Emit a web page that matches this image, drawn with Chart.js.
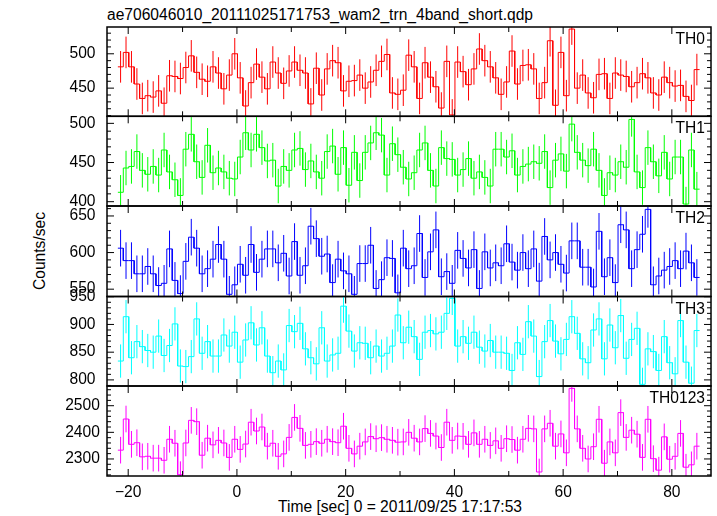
<!DOCTYPE html>
<html><head><meta charset="utf-8"><title>ae706046010 WAM light curve</title>
<script src="https://cdn.jsdelivr.net/npm/chart.js@4.4.1/dist/chart.umd.min.js"></script>
<style>
html,body{margin:0;padding:0;background:#fff;overflow:hidden}
#wrap{position:relative;width:717px;height:516px;font-family:"Liberation Sans",Arial,Helvetica,sans-serif;color:#000}
#wrap canvas{position:absolute;left:0;top:0}
.lbl{position:absolute;white-space:nowrap;font-size:15.6px;line-height:1}
</style></head><body>
<div id="wrap">
<div class="lbl" style="left:107px;top:6.8px">ae706046010_20111025171753_wam2_trn_4band_short.qdp</div>
<div class="lbl" style="left:0;top:0;transform:translate(32px,290px) rotate(-90deg);transform-origin:0 0">Counts/sec</div>
<div class="lbl" id="xlab" style="top:498.8px">Time [sec] 0 = 2011/09/25 17:17:53</div>
</div>
<script>
// ---------- data (1 s bins) ----------
const tStart = -21.4;      // centre of first bin [s]
const binW = 1.0;          // bin width [s]
const xTickValues = [-20,-10,0,10,20,30,40,50,60,70,80];
const bandNames = ["TH0","TH1","TH2","TH3","TH0123"];

const th0 = [481,502,481,456,435,439,437,446,428,468,467,464,480,497,473,463,460,481,472,449,469,500,465,424,458,485,466,449,488,472,
457,475,488,476,472,427,479,440,478,490,487,446,460,461,469,450,459,476,489,499,443,441,447,498,481,435,487,466,452,421,489,411,488,474,455,478,507,490,
481,465,441,459,504,456,483,484,478,435,458,519,425,502,439,536,450,469,443,436,470,471,435,472,469,467,452,458,471,465,443,440,466,458,453,454,438,432,477];
const th1 = [412,443,445,464,440,435,445,434,466,438,428,408,467,486,451,431,472,437,443,438,430,429,457,488,466,486,469,452,453,420,
445,440,466,468,441,452,438,430,464,471,435,469,421,463,427,463,475,488,485,434,474,460,444,429,437,466,475,440,420,469,455,454,434,441,455,430,438,431,
420,467,467,457,465,434,445,448,451,449,464,418,453,461,439,499,463,453,446,467,440,408,437,434,451,444,505,438,418,469,451,433,463,429,457,457,397,466,416];
const th2 = [606,589,589,571,571,581,571,555,558,605,562,544,588,621,606,571,578,591,611,591,543,556,584,569,611,573,591,605,605,586,
599,568,615,569,582,636,619,595,598,559,591,575,571,543,585,585,610,551,563,593,592,545,606,578,582,626,566,601,631,567,574,558,603,592,579,604,551,601,
579,586,582,612,587,576,600,578,605,561,622,590,600,584,572,616,616,580,580,553,629,567,593,559,638,631,578,604,625,659,556,568,576,581,589,578,602,586,566];
const th3 = [834,914,840,869,860,853,850,879,844,862,901,825,824,842,910,848,869,843,843,881,861,886,832,872,903,863,894,843,813,834,
818,898,887,902,856,840,829,894,834,845,848,933,888,852,867,866,840,861,843,848,861,917,867,895,878,837,886,889,883,886,
920,947,861,878,866,886,859,852,871,850,850,848,817,867,846,905,879,806,869,907,870,847,873,914,884,838,831,890,910,838,
899,858,916,839,873,893,792,856,851,817,878,831,811,907,832,794,889];
const th0123 = [2333,2450,2355,2361,2308,2310,2303,2303,2295,2374,2359,2241,2360,2445,2440,2314,2378,2353,2370,2360,2306,2374,2336,2356,2438,2405,2420,2348,2359,2310,
2319,2381,2456,2415,2351,2355,2365,2359,2374,2365,2361,2423,2340,2319,2348,2364,2384,2376,2380,2374,
2370,2363,2364,2400,2378,2364,2414,2396,2386,2343,2438,2370,2386,2385,2355,2398,2355,2374,2351,2368,
2340,2376,2373,2333,2374,2415,2413,2251,2413,2434,2348,2394,2323,2565,2413,2340,2300,2346,2449,2284,
2364,2323,2474,2381,2408,2393,2306,2449,2301,2258,2383,2299,2310,2396,2269,2278,2348];
// error-bar half lengths (counts/sec)
const errTH0 = 23, errTH1 = 22, errTH2 = 25, errTH3 = 30, errTH0123 = 50;
// y tick labels per panel
const yTicksTH0 = [450,500];
const yTicksTH1 = [400,450,500];
const yTicksTH2 = [550,600,650];
const yTicksTH3 = [800,850,900,950];
const yTicksTH0123 = [2300,2400,2500];

// ---------- layout / style ----------
const W = 717, H = 516, PLOT_L = 107, PLOT_R = 711, X_AXIS_H = 40;
const Y_LABEL_CX = 82.5;   // y tick labels are centred on this x
const X_MIN = -23.9, X_MAX = 87.2;
const FONT = {family:'"Liberation Sans", Arial, sans-serif', size:15.6};
const panels = [
  {vals:th0, err:errTH0, ticks:yTicksTH0, min:409, max:539, minor:10, top:27, bottom:116.3, color:'#ff0000'},
  {vals:th1, err:errTH1, ticks:yTicksTH1, min:394.5, max:509, minor:10, top:116.3, bottom:206, color:'#00ff00'},
  {vals:th2, err:errTH2, ticks:yTicksTH2, min:540, max:663.6, minor:10, top:206, bottom:296.5, color:'#0000ff'},
  {vals:th3, err:errTH3, ticks:yTicksTH3, min:789, max:950.4, minor:10, top:296.5, bottom:386, color:'#00ffff'},
  {vals:th0123, err:errTH0123, ticks:yTicksTH0123, min:2236, max:2574, minor:20, top:386, bottom:476, color:'#ff00ff'}
];

const times = th0.map((_, i) => tStart + i * binW);
function stepData(vals){ const p=[]; vals.forEach((v,i)=>{ p.push({x:times[i]-binW/2,y:v},{x:times[i]+binW/2,y:v}); }); return p; }
function errData(vals,e){ const p=[]; vals.forEach((v,i)=>{ p.push({x:times[i],y:v-e},{x:times[i],y:v+e},{x:times[i],y:null}); }); return p; }

const mctx = document.createElement('canvas').getContext('2d');
mctx.font = FONT.size + 'px ' + FONT.family;
function labelPad(ticks){ const w = Math.max(...ticks.map(t => mctx.measureText(String(t)).width)); return (PLOT_L - Y_LABEL_CX) - w/2; }

const frameTicks = {
  id:'frameTicks',
  afterDatasetsDraw(chart, args, o){
    const {ctx, chartArea:a, scales:{x,y}} = chart;
    ctx.save();
    ctx.strokeStyle = '#000'; ctx.lineWidth = 1;
    ctx.beginPath();
    for (const v of xTickValues){
      const px = x.getPixelForValue(v), L = (v % 20 === 0) ? 7 : 5;
      ctx.moveTo(px, a.top); ctx.lineTo(px, a.top + L);
      ctx.moveTo(px, a.bottom); ctx.lineTo(px, a.bottom - L);
    }
    const major = o.ticks[1] - o.ticks[0];
    for (let v = Math.ceil(y.min / o.minor) * o.minor; v <= y.max; v += o.minor){
      const py = y.getPixelForValue(v);
      const L = (Math.abs(v % major) < 1e-6) ? 7 : 4;
      ctx.moveTo(a.left, py); ctx.lineTo(a.left + L, py);
      ctx.moveTo(a.right, py); ctx.lineTo(a.right - L, py);
    }
    ctx.stroke();
    ctx.lineWidth = 1.5;
    ctx.strokeRect(a.left, a.top, a.right - a.left, a.bottom - a.top);
    ctx.fillStyle = '#000';
    ctx.font = FONT.size + 'px ' + FONT.family;
    ctx.textAlign = 'right'; ctx.textBaseline = 'alphabetic';
    ctx.fillText(o.name, a.right - 6, a.top + 17);
    ctx.restore();
  }
};

const wrap = document.getElementById('wrap');
panels.forEach((p, idx) => {
  const cv = document.createElement('canvas');
  cv.width = W; cv.height = H; cv.style.width = W + 'px'; cv.style.height = H + 'px';
  wrap.appendChild(cv);
  const isBottom = idx === panels.length - 1;
  new Chart(cv, {
    type:'line',
    data:{datasets:[
      {data:stepData(p.vals), borderColor:p.color, borderWidth:1, pointRadius:0, tension:0, fill:false, borderJoinStyle:'miter'},
      {data:errData(p.vals, p.err), borderColor:p.color, borderWidth:1, pointRadius:0, tension:0, fill:false, spanGaps:false}
    ]},
    options:{
      responsive:false, animation:false, devicePixelRatio:1, events:[],
      layout:{padding:{left:0, right:W-PLOT_R, top:p.top, bottom: isBottom ? (H - p.bottom - X_AXIS_H) : (H - p.bottom)}},
      plugins:{legend:{display:false}, tooltip:{enabled:false}, title:{display:false},
        frameTicks:{ticks:p.ticks, minor:p.minor, name:bandNames[idx]}},
      scales:{
        x:{type:'linear', min:X_MIN, max:X_MAX, display:isBottom,
           grid:{display:false, drawTicks:false}, border:{display:false},
           ticks:{font:FONT, color:'#000', padding:7, maxRotation:0,
             callback:(v)=> (v % 20 === 0) ? String(v).replace('-', '\u2212') : ''},
           afterBuildTicks:(s)=>{ s.ticks = xTickValues.map(v=>({value:v})); },
           afterFit:(s)=>{ if (isBottom) s.height = X_AXIS_H; }},
        y:{type:'linear', min:p.min, max:p.max,
           grid:{display:false, drawTicks:false}, border:{display:false},
           ticks:{font:FONT, color:'#000', padding:labelPad(p.ticks), crossAlign:'center', callback:(v)=>String(v)},
           afterBuildTicks:(s)=>{ s.ticks = p.ticks.map(v=>({value:v})); },
           afterFit:(s)=>{ s.width = PLOT_L; }}
      }
    },
    plugins:[frameTicks]
  });
});
// centre the x-axis title
const xl = document.getElementById('xlab');
xl.style.left = (400 - xl.offsetWidth/2) + 'px';
</script>
</body></html>
